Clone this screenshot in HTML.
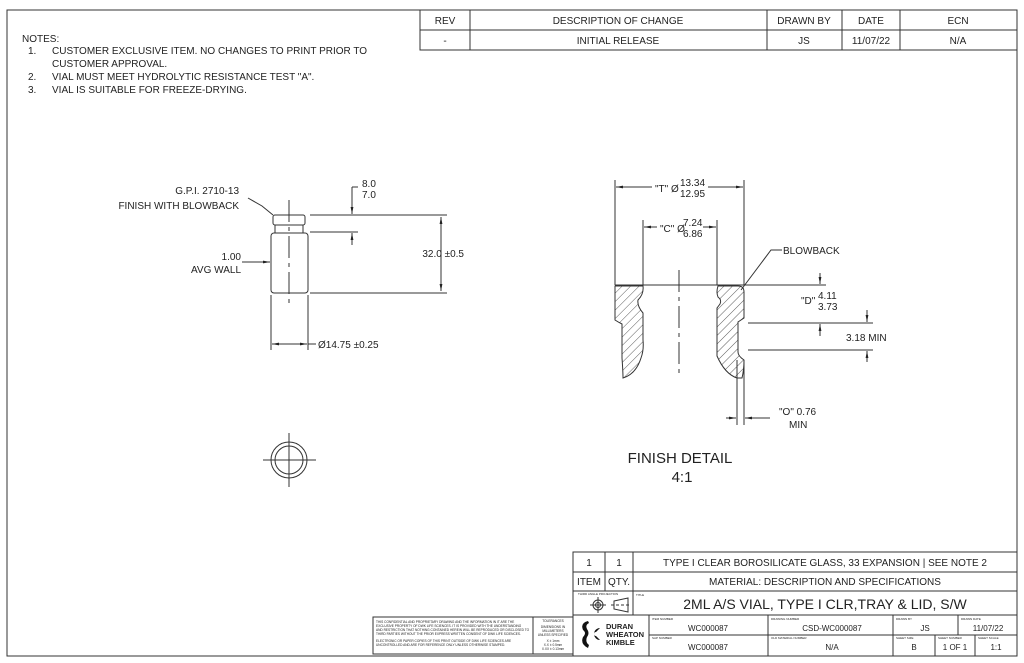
<!DOCTYPE html>
<html><head><meta charset="utf-8"><style>
html,body{margin:0;padding:0;background:#fff}
svg{display:block}
text{font-family:"Liberation Sans",sans-serif;fill:#222}
</style></head><body>
<svg width="1024" height="663" viewBox="0 0 1024 663" xmlns="http://www.w3.org/2000/svg">
<defs>
<marker id="a" viewBox="0 0 10 10" refX="10" refY="5" markerWidth="7" markerHeight="7" orient="auto-start-reverse"><path d="M0,3 L10,5 L0,7 z" fill="#222"/></marker>
<pattern id="h" width="6" height="6" patternUnits="userSpaceOnUse" patternTransform="rotate(45)"><line x1="0" y1="0" x2="0" y2="6" stroke="#333" stroke-width="0.8"/></pattern>
</defs>
<g stroke="#333" fill="none" stroke-width="1">
<rect x="7" y="10" width="1010" height="646"/>
<!-- revision table -->
<rect x="420" y="10" width="597" height="40"/>
<line x1="420" y1="30" x2="1017" y2="30"/>
<line x1="470" y1="10" x2="470" y2="50"/><line x1="767" y1="10" x2="767" y2="50"/>
<line x1="842" y1="10" x2="842" y2="50"/><line x1="900" y1="10" x2="900" y2="50"/>
<!-- title block -->
<rect x="573" y="552" width="444" height="104"/>
<line x1="573" y1="572" x2="1017" y2="572"/><line x1="573" y1="591" x2="1017" y2="591"/>
<line x1="573" y1="615" x2="1017" y2="615"/>
<line x1="605" y1="552" x2="605" y2="591"/><line x1="633" y1="552" x2="633" y2="615"/>
<line x1="649" y1="615" x2="649" y2="656"/><line x1="649" y1="635" x2="1017" y2="635"/>
<line x1="768" y1="615" x2="768" y2="656"/><line x1="893" y1="615" x2="893" y2="656"/>
<line x1="958" y1="615" x2="958" y2="635"/>
<line x1="935" y1="635" x2="935" y2="656"/><line x1="975" y1="635" x2="975" y2="656"/>
<rect x="373" y="617" width="200" height="37"/>
<line x1="533" y1="617" x2="533" y2="654"/>
<!-- projection symbol -->
<circle cx="598" cy="605" r="5"/><circle cx="598" cy="605" r="2.5"/>
<line x1="590" y1="605" x2="606" y2="605"/><line x1="598" y1="597" x2="598" y2="613"/>
<path d="M614,601 L628,598 L628,612 L614,609 Z"/><line x1="611" y1="605" x2="631" y2="605" stroke-dasharray="3,2"/>
<!-- vial -->
<rect x="273" y="215" width="32" height="10" rx="2"/>
<rect x="275" y="225" width="28" height="8"/>
<rect x="271" y="233" width="37" height="60" rx="3"/>
<line x1="289" y1="200" x2="289" y2="307" stroke-dasharray="22,5,4,5"/>
<line x1="310" y1="215" x2="447" y2="215"/><line x1="310" y1="232" x2="358" y2="232"/>
<line x1="310" y1="293" x2="447" y2="293"/>
<line x1="441" y1="254" x2="441" y2="217" marker-end="url(#a)"/><line x1="441" y1="254" x2="441" y2="291" marker-end="url(#a)"/>
<line x1="352" y1="187" x2="352" y2="214" marker-end="url(#a)"/><line x1="358" y1="187" x2="352" y2="187"/>
<line x1="352" y1="245" x2="352" y2="233" marker-end="url(#a)"/>
<polyline points="248,198 262,206 273,215"/>
<line x1="242" y1="262" x2="270" y2="262" marker-end="url(#a)"/>
<line x1="271" y1="295" x2="271" y2="350"/><line x1="308" y1="295" x2="308" y2="350"/>
<line x1="289" y1="344" x2="272" y2="344" marker-end="url(#a)"/><line x1="289" y1="344" x2="307" y2="344" marker-end="url(#a)"/>
<line x1="308" y1="344" x2="316" y2="344"/>
<!-- top view -->
<circle cx="289" cy="460" r="18"/><circle cx="289" cy="460" r="14"/>
<line x1="263" y1="460" x2="316" y2="460"/><line x1="289" y1="433" x2="289" y2="487"/>
<!-- finish detail -->
<line x1="615" y1="180" x2="615" y2="285"/><line x1="744" y1="180" x2="744" y2="285"/>
<line x1="652" y1="187" x2="616" y2="187" marker-end="url(#a)"/><line x1="708" y1="187" x2="743" y2="187" marker-end="url(#a)"/>
<line x1="643" y1="220" x2="643" y2="285"/><line x1="717" y1="220" x2="717" y2="285"/>
<line x1="657" y1="227" x2="644" y2="227" marker-end="url(#a)"/><line x1="703" y1="227" x2="716" y2="227" marker-end="url(#a)"/>
<line x1="615" y1="285" x2="826" y2="285"/>
<line x1="679" y1="270" x2="679" y2="375" stroke-dasharray="22,5,4,5"/>
<path d="M615,286 L615,320 Q618,322 622,324 L622,358 Q623,372 623,378 Q636,374 641,358 Q644,350 643,340 L643,313 Q637,306 638,300 Q644,294 643,286 Z" fill="url(#h)"/>
<path d="M718,286 Q716,292 718,297 Q722,300 720,304 L717,308 L717,356 Q725,374 737,378 L742,378 Q744,370 744,360 Q738,356 738,352 L738,322 L744,318 L744,292 Q744,286 738,286 Z" fill="url(#h)"/>
<line x1="737" y1="360" x2="737" y2="425"/><line x1="744" y1="360" x2="744" y2="425"/>
<line x1="726" y1="418" x2="736" y2="418" marker-end="url(#a)"/><line x1="770" y1="418" x2="745" y2="418" marker-end="url(#a)"/>
<polyline points="741,290 771,250 782,250"/>
<line x1="820" y1="273" x2="820" y2="284" marker-end="url(#a)"/>
<line x1="820" y1="336" x2="820" y2="324" marker-end="url(#a)"/>
<line x1="748" y1="323" x2="873" y2="323"/><line x1="748" y1="350" x2="873" y2="350"/>
<line x1="867" y1="310" x2="867" y2="322" marker-end="url(#a)"/>
<line x1="867" y1="362" x2="867" y2="351" marker-end="url(#a)"/>
</g>
<g font-size="10">
<text x="445" y="24" text-anchor="middle">REV</text>
<text x="618" y="24" text-anchor="middle">DESCRIPTION OF CHANGE</text>
<text x="804" y="24" text-anchor="middle">DRAWN BY</text>
<text x="871" y="24" text-anchor="middle">DATE</text>
<text x="958" y="24" text-anchor="middle">ECN</text>
<text x="445" y="44" text-anchor="middle">-</text>
<text x="618" y="44" text-anchor="middle">INITIAL RELEASE</text>
<text x="804" y="44" text-anchor="middle">JS</text>
<text x="871" y="44" text-anchor="middle">11/07/22</text>
<text x="958" y="44" text-anchor="middle">N/A</text>
<text x="22" y="42">NOTES:</text>
<text x="28" y="54">1.</text><text x="52" y="54">CUSTOMER EXCLUSIVE ITEM. NO CHANGES TO PRINT PRIOR TO</text>
<text x="52" y="67">CUSTOMER APPROVAL.</text>
<text x="28" y="80">2.</text><text x="52" y="80">VIAL MUST MEET HYDROLYTIC RESISTANCE TEST "A".</text>
<text x="28" y="93">3.</text><text x="52" y="93">VIAL IS SUITABLE FOR FREEZE-DRYING.</text>
<text x="239" y="194" text-anchor="end">G.P.I. 2710-13</text>
<text x="239" y="209" text-anchor="end">FINISH WITH BLOWBACK</text>
<text x="362" y="187">8.0</text><text x="362" y="198">7.0</text>
<text x="464" y="257" text-anchor="end">32.0 ±0.5</text>
<text x="241" y="260" text-anchor="end">1.00</text>
<text x="241" y="273" text-anchor="end">AVG WALL</text>
<text x="318" y="348">Ø14.75 ±0.25</text>
<text x="655" y="192">"T" Ø</text><text x="680" y="186" font-size="10">13.34</text><text x="680" y="197">12.95</text>
<text x="660" y="232">"C" Ø</text><text x="683" y="226">7.24</text><text x="683" y="237">6.86</text>
<text x="783" y="254">BLOWBACK</text>
<text x="801" y="304">"D"</text><text x="818" y="299">4.11</text><text x="818" y="310">3.73</text>
<text x="846" y="341">3.18 MIN</text>
<text x="779" y="415">"O" 0.76</text><text x="789" y="428">MIN</text>
<text x="680" y="463" font-size="15" text-anchor="middle">FINISH DETAIL</text>
<text x="682" y="482" font-size="15" text-anchor="middle">4:1</text>
<text x="589" y="566" text-anchor="middle">1</text><text x="619" y="566" text-anchor="middle">1</text>
<text x="825" y="566" text-anchor="middle">TYPE I CLEAR BOROSILICATE GLASS, 33 EXPANSION | SEE NOTE 2</text>
<text x="589" y="585" text-anchor="middle">ITEM</text><text x="619" y="585" text-anchor="middle">QTY.</text>
<text x="825" y="585" text-anchor="middle">MATERIAL: DESCRIPTION AND SPECIFICATIONS</text>
<text x="825" y="609" font-size="14" text-anchor="middle">2ML A/S VIAL, TYPE I CLR,TRAY &amp; LID, S/W</text>
<text x="708" y="631" font-size="8" text-anchor="middle">WC000087</text>
<text x="832" y="631" font-size="8" text-anchor="middle">CSD-WC000087</text>
<text x="925" y="631" font-size="8" text-anchor="middle">JS</text>
<text x="988" y="631" font-size="8" text-anchor="middle">11/07/22</text>
<text x="708" y="650" font-size="8" text-anchor="middle">WC000087</text>
<text x="832" y="650" font-size="8" text-anchor="middle">N/A</text>
<text x="914" y="650" font-size="8" text-anchor="middle">B</text>
<text x="955" y="650" font-size="8" text-anchor="middle">1 OF 1</text>
<text x="996" y="650" font-size="8" text-anchor="middle">1:1</text>
<text x="636" y="596" font-size="3">TITLE</text>
<text x="578" y="595" font-size="3">THIRD ANGLE PROJECTION</text>
<text x="652" y="620" font-size="3">ITEM NUMBER</text><text x="771" y="620" font-size="3">DRAWING NUMBER</text>
<text x="896" y="620" font-size="3">DRAWN BY</text><text x="961" y="620" font-size="3">DRAWN DATE</text>
<text x="652" y="639" font-size="3">SAP NUMBER</text><text x="771" y="639" font-size="3">OLD MATERIAL NUMBER</text>
<text x="896" y="639" font-size="3">SHEET SIZE</text><text x="938" y="639" font-size="3">SHEET NUMBER</text><text x="978" y="639" font-size="3">SHEET SCALE</text>
<g font-size="3.2">
<text x="376" y="623">THIS CONFIDENTIAL AND PROPRIETARY DRAWING AND THE INFORMATION IN IT ARE THE</text>
<text x="376" y="627">EXCLUSIVE PROPERTY OF DWK LIFE SCIENCES. IT IS PROVIDED WITH THE UNDERSTANDING</text>
<text x="376" y="631">AND RESTRICTION THAT NOTHING CONTAINED HEREIN WILL BE REPRODUCED OR DISCLOSED TO</text>
<text x="376" y="635">THIRD PARTIES WITHOUT THE PRIOR EXPRESS WRITTEN CONSENT OF DWK LIFE SCIENCES.</text>
<text x="376" y="642">ELECTRONIC OR PAPER COPIES OF THIS PRINT OUTSIDE OF DWK LIFE SCIENCES ARE</text>
<text x="376" y="646">UNCONTROLLED AND ARE FOR REFERENCE ONLY UNLESS OTHERWISE STAMPED.</text>
<text x="553" y="622" text-anchor="middle">TOLERANCES</text>
<text x="553" y="628" text-anchor="middle">DIMENSIONS IN</text>
<text x="553" y="632" text-anchor="middle">MILLIMETERS</text>
<text x="553" y="636" text-anchor="middle">UNLESS SPECIFIED</text>
<text x="553" y="642" text-anchor="middle">X ± 1mm</text>
<text x="553" y="646" text-anchor="middle">X.X ± 0.5mm</text>
<text x="553" y="650" text-anchor="middle">X.XX ± 0.13mm</text>
</g>
<text x="606" y="629" font-size="7.5" font-weight="bold">DURAN</text>
<text x="606" y="637" font-size="7.5" font-weight="bold">WHEATON</text>
<text x="606" y="645" font-size="7.5" font-weight="bold">KIMBLE</text>
</g>
<path d="M588,621 Q580,623 583,630 Q587,633 583,637 Q580,644 588,648 L589,645 Q585,642 587,637 Q590,633 587,629 Q585,625 589,623 Z" fill="#111"/>
<path d="M600,628 A6,6 0 1 0 600,640 L596,636 A2,2 0 1 1 596,632 Z" fill="#111"/>
</svg>
</body></html>
